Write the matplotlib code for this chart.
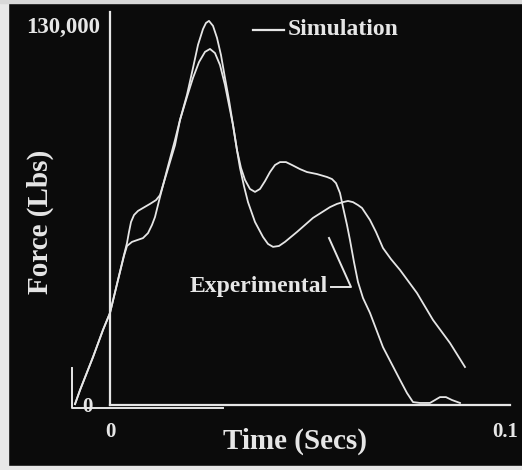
import matplotlib
matplotlib.use("Agg")
import matplotlib.pyplot as plt
from matplotlib.patches import Rectangle

# time in ms, force in lbs
t_a = [-8.86, -7.59, -4.30, -1.77, 0, 2.03, 3.54, 4.30, 5.57, 6.84, 8.35, 9.62, 10.63,
       11.39, 12.66, 14.43, 16.46, 17.72, 19.49, 21.01, 22.28, 23.54, 24.30, 25.06, 26.08,
       27.09, 28.10, 29.11, 30.13, 31.14, 32.15, 32.91, 33.92, 34.94, 36.71, 38.73, 40.00,
       41.27, 42.78, 44.30, 47.34, 51.39, 55.70, 57.47, 58.99, 60.25, 61.52, 62.78, 63.80,
       65.82, 67.34, 69.11, 71.14, 73.42, 77.72, 81.77, 86.08, 89.87]
force_a = [300, 5100, 16400, 25700, 31500, 42800, 51000, 54400, 55800, 56400, 57100, 58800,
           61600, 64300, 71200, 80400, 90700, 97500, 106100, 115300, 123200, 128600, 130700,
           131400, 129700, 125600, 119700, 111900, 104300, 95800, 87200, 81100, 74900, 69400,
           62600, 57500, 55100, 54100, 54400, 55800, 59200, 64000, 67700, 68800, 69400, 69800,
           69400, 68400, 67400, 63300, 59200, 53700, 49900, 46200, 38300, 29100, 21200, 13000]

t_b = [-8.86, -7.59, -4.30, -1.77, 0, 2.03, 3.54, 4.30, 4.81, 5.32, 6.08, 7.09, 8.35, 10.13,
       11.65, 12.66, 14.43, 16.46, 17.72, 19.49, 21.01, 22.53, 24.05, 25.32, 26.58, 27.85,
       29.11, 30.13, 31.14, 32.15, 33.16, 34.18, 35.44, 36.71, 37.97, 39.24, 40.51, 41.77,
       43.04, 44.56, 46.08, 48.10, 49.87, 52.41, 54.94, 56.20, 57.22, 58.23, 58.99, 60.00,
       60.76, 61.77, 62.78, 64.05, 65.82, 69.11, 73.42, 75.19, 76.71, 78.48, 81.01, 82.28,
       83.54, 85.06, 86.58, 88.61]
force_b = [300, 5100, 16400, 25700, 31500, 42800, 51300, 55400, 59200, 62600, 65000, 66400,
           67400, 68800, 70100, 71800, 79700, 88900, 97500, 105400, 111900, 117300, 120800,
           121800, 120400, 116300, 109500, 102600, 95800, 87200, 81100, 77000, 73900, 72900,
           73900, 76600, 79700, 82100, 83100, 83100, 82100, 80700, 79700, 79000, 78000, 77300,
           75900, 72500, 67700, 61600, 56400, 48900, 42100, 36600, 31500, 19800, 8600, 4100,
           1000, 700, 700, 1700, 2700, 2700, 1700, 700]

x_ticks = [0, 0.1]
x_tick_labels = ["0", "0.1"]
y_ticks = [130000]
y_tick_labels = ["130,000"]

fg = "#e6e6e6"
bg = "#0b0b0b"
font = "Liberation Serif"

fig = plt.figure(figsize=(5.22, 4.70), dpi=100, facecolor=bg)
ax = fig.add_axes([110 / 522, 65 / 470, 400 / 522, 393 / 470])
ax.set_facecolor(bg)

ax.plot([t / 1000 for t in t_a], force_a, color=fg, lw=1.3, clip_on=False,
        solid_joinstyle="round")
ax.plot([t / 1000 for t in t_b], force_b, color=fg, lw=1.3, clip_on=False,
        solid_joinstyle="round")

ax.set_xlim(0, 0.10127)
ax.set_ylim(0, 134445)

for s in ["top", "right"]:
    ax.spines[s].set_visible(False)
for s in ["left", "bottom"]:
    ax.spines[s].set_color(fg)
    ax.spines[s].set_linewidth(1.6)

ax.set_xticks(x_ticks)
ax.set_xticklabels(x_tick_labels)
ax.set_yticks(y_ticks)
ax.set_yticklabels(y_tick_labels)
ax.tick_params(length=0, colors=fg)
ax.tick_params(axis="x", pad=12)
ax.tick_params(axis="y", pad=7)
for lab in ax.get_xticklabels():
    lab.set_fontfamily(font)
    lab.set_fontweight("bold")
    lab.set_fontsize(15)
for lab in ax.get_yticklabels():
    lab.set_fontfamily(font)
    lab.set_fontweight("bold")
    lab.set_fontsize(16.5)

# stray second origin at the lower left
ax.plot([-0.00962, -0.00962, 0.0286], [12660, -1030, -1030], color=fg, lw=1.4, clip_on=False)
ax.text(-0.0056, -700, "0", color=fg, fontsize=15, fontweight="bold", family=font,
        ha="center", va="center")

# legend style labels
ax.plot([0.0362, 0.0441], [128290, 128290], color=fg, lw=1.6, clip_on=False)
ax.text(0.04506, 128290, "Simulation", color=fg, fontsize=17, fontweight="bold",
        family=font, ha="left", va="center")
ax.text(0.0552, 40370, "Experimental", color=fg, fontsize=17, fontweight="bold",
        family=font, ha="right", va="center")
ax.plot([0.05544, 0.06101, 0.05595], [57130, 40370, 40370], color=fg, lw=1.4, clip_on=False)

fig.text(295 / 522, 1 - 441 / 470, "Time (Secs)", color=fg, fontsize=21, fontweight="bold",
         family=font, ha="center", va="center")
fig.text(40 / 522, 1 - 222 / 470, "Force (Lbs)", color=fg, fontsize=21, fontweight="bold",
         family=font, ha="center", va="center", rotation=90)

# light scan border
fig.patches.append(Rectangle((0, 0), 8 / 522, 1, transform=fig.transFigure, color="#e8e8e8"))
fig.patches.append(Rectangle((0, 1 - 3 / 470), 1, 3 / 470, transform=fig.transFigure, color="#d8d8d8"))
fig.patches.append(Rectangle((0, 0), 1, 4 / 470, transform=fig.transFigure, color="#e8e8e8"))

fig.savefig("out.png", dpi=100, facecolor=bg)
